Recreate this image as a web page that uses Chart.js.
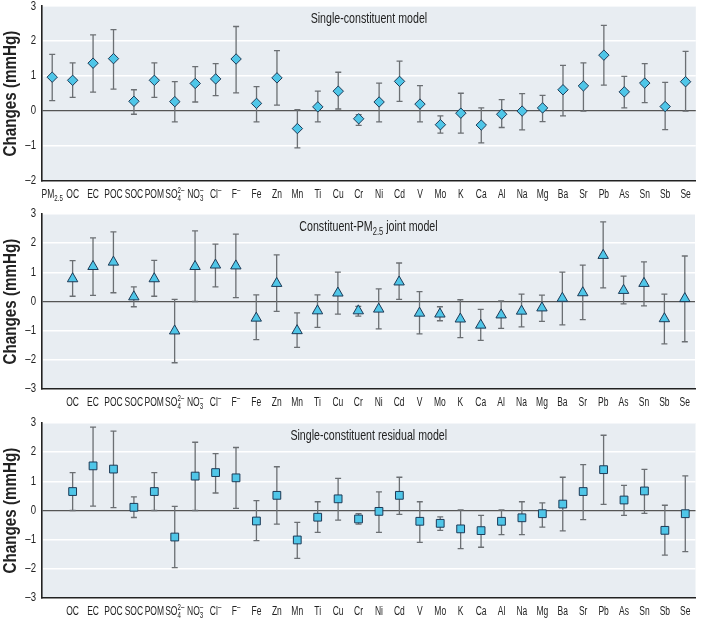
<!DOCTYPE html>
<html>
<head>
<meta charset="utf-8">
<script src="https://cdn.jsdelivr.net/npm/chart.js@4"></script>
<style>
  body { margin: 0; background: #fff; }
  .panel { position: absolute; left: 0; width: 702px; }
</style>
</head>
<body>
<div class="panel" style="top:0;height:203px"><canvas id="c1"></canvas></div>
<div class="panel" style="top:203px;height:208px"><canvas id="c2"></canvas></div>
<div class="panel" style="top:411px;height:209px"><canvas id="c3"></canvas></div>
<script>
// categories
const labels1 = ['PM₂.₅','OC','EC','POC','SOC','POM','SO₄²⁻','NO₃⁻','Cl⁻','F⁻','Fe','Zn','Mn','Ti','Cu','Cr','Ni','Cd','V','Mo','K','Ca','Al','Na','Mg','Ba','Sr','Pb','As','Sn','Sb','Se'];
const labels23 = [''].concat(labels1.slice(1));

// single-constituent model
const single = [0.97,0.88,1.37,1.50,0.28,0.88,0.27,0.79,0.92,1.49,0.22,0.95,-0.50,0.12,0.57,-0.22,0.26,0.85,0.20,-0.39,-0.06,-0.40,-0.09,0.00,0.09,0.61,0.72,1.60,0.55,0.80,0.13,0.84];
const singleLo = [0.30,0.39,0.54,0.63,-0.09,0.39,-0.31,0.26,0.44,0.52,-0.31,0.17,-1.05,-0.31,0.06,-0.41,-0.31,0.28,-0.31,-0.63,-0.63,-0.91,-0.47,-0.54,-0.30,-0.14,0.00,0.74,0.09,0.24,-0.53,0.00];
const singleHi = [1.62,1.38,2.18,2.33,0.61,1.38,0.84,1.27,1.36,2.42,0.70,1.73,0.04,0.57,1.11,-0.10,0.80,1.43,0.73,-0.14,0.51,0.09,0.33,0.50,0.45,1.31,1.38,2.45,0.99,1.36,0.82,1.71];

// constituent-PM2.5 joint model
const joint = [null,0.78,1.20,1.35,0.16,0.78,-1.01,1.20,1.25,1.22,-0.57,0.62,-1.00,-0.32,0.29,-0.32,-0.26,0.67,-0.40,-0.43,-0.60,-0.81,-0.46,-0.33,-0.22,0.11,0.30,1.58,0.38,0.62,-0.59,0.10];
const jointLo = [null,0.18,0.21,0.30,-0.18,0.18,-2.10,0.00,0.50,0.13,-1.31,-0.34,-1.57,-0.89,-0.43,-0.50,-0.94,0.07,-1.11,-0.66,-1.24,-1.33,-0.92,-0.87,-0.68,-0.80,-0.62,0.47,-0.08,-0.15,-1.45,-1.38];
const jointHi = [null,1.40,2.18,2.39,0.50,1.41,0.07,2.42,1.97,2.31,0.23,1.60,-0.39,0.23,1.01,-0.17,0.43,1.32,0.34,-0.18,0.06,-0.27,0.02,0.25,0.22,1.01,1.25,2.73,0.87,1.36,0.25,1.56];

// single-constituent residual model
const resid = [null,0.65,1.53,1.42,0.11,0.65,-0.91,1.18,1.30,1.12,-0.36,0.52,-1.01,-0.23,0.40,-0.29,-0.03,0.52,-0.37,-0.44,-0.63,-0.69,-0.37,-0.25,-0.11,0.22,0.65,1.40,0.36,0.67,-0.68,-0.11];
const residLo = [null,0.00,0.15,0.10,-0.24,0.00,-1.96,0.00,0.60,0.07,-1.03,-0.47,-1.64,-0.75,-0.33,-0.47,-0.75,-0.13,-1.09,-0.68,-1.31,-1.26,-0.83,-0.83,-0.57,-0.70,-0.31,0.21,-0.17,-0.10,-1.53,-1.41];
const residHi = [null,1.30,2.86,2.72,0.47,1.30,0.14,2.34,1.95,2.16,0.34,1.50,-0.41,0.30,1.10,-0.11,0.64,1.14,0.30,-0.22,0.02,-0.17,0.02,0.30,0.26,1.14,1.57,2.58,0.86,1.41,0.18,1.19];

const FONT = "'Liberation Sans', Arial, sans-serif";
const SUB = { '₂': '2', '₃': '3', '₄': '4', '₅': '5', '.': '.' };
const SUP = { '²': '2', '⁻': '–' };

// split a label into runs of normal / sub / sup text
function runs(label) {
  const out = [];
  let prevSub = false;
  for (const ch of label) {
    let kind = 'n', t = ch;
    if (SUP[ch]) { kind = 'sup'; t = SUP[ch]; }
    else if (SUB[ch] && (ch !== '.' || prevSub)) { kind = 'sub'; t = SUB[ch]; }
    prevSub = kind === 'sub';
    const last = out[out.length - 1];
    if (last && last.kind === kind) last.t += t; else out.push({ kind, t });
  }
  return out;
}

// draws condensed text centred at (x, y)
function condText(ctx, label, x, y, size, sx) {
  const rs = runs(label);
  const small = Math.round(size * 0.72);
  rs.forEach(r => {
    ctx.font = (r.kind === 'n' ? size : small) + 'px ' + FONT;
    r.w = ctx.measureText(r.t).width;
  });
  // sup sits over the sub for SO4 2-
  let total = 0;
  rs.forEach((r, i) => {
    if (r.kind === 'sup' && i > 0 && rs[i - 1].kind === 'sub') { r.stack = true; total += Math.max(0, r.w - rs[i - 1].w); }
    else total += r.w;
  });
  ctx.save();
  ctx.translate(x, y);
  ctx.scale(sx, 1);
  ctx.textBaseline = 'alphabetic';
  ctx.textAlign = 'left';
  let cx = -total / 2, subX = 0;
  rs.forEach(r => {
    if (r.kind === 'n') {
      ctx.font = size + 'px ' + FONT;
      ctx.fillText(r.t, cx, size * 0.36);
      cx += r.w;
    } else if (r.kind === 'sub') {
      ctx.font = small + 'px ' + FONT;
      subX = cx;
      ctx.fillText(r.t, cx, size * 0.36 + size * 0.25);
      cx += r.w;
    } else {
      ctx.font = small + 'px ' + FONT;
      const px = r.stack ? subX : cx;
      ctx.fillText(r.t, px, size * 0.36 - size * 0.38);
      cx = r.stack ? Math.max(cx, subX + r.w) : cx + r.w;
    }
  });
  ctx.restore();
}

const panelPlugin = {
  id: 'panel',
  beforeDraw(chart) {
    const a = chart.chartArea, ctx = chart.ctx;
    ctx.save();
    ctx.fillStyle = '#e8edf2';
    ctx.fillRect(a.left, a.top, a.right - a.left, a.bottom - a.top);
    ctx.restore();
  },
  beforeDatasetsDraw(chart, args, opts) {
    const ctx = chart.ctx;
    const x = chart.scales.x, y = chart.scales.y;
    ctx.save();
    ctx.strokeStyle = '#6b6f73';
    ctx.lineWidth = 1.3;
    opts.lo.forEach((lo, i) => {
      const hi = opts.hi[i];
      if (lo === null) return;
      const px = x.getPixelForValue(i);
      const y1 = y.getPixelForValue(lo), y2 = y.getPixelForValue(hi);
      ctx.beginPath();
      ctx.moveTo(px, y1); ctx.lineTo(px, y2);
      ctx.moveTo(px - 3, y1); ctx.lineTo(px + 3, y1);
      ctx.moveTo(px - 3, y2); ctx.lineTo(px + 3, y2);
      ctx.stroke();
    });
    ctx.restore();
  },
  afterDraw(chart, args, opts) {
    const a = chart.chartArea, ctx = chart.ctx;
    const x = chart.scales.x, y = chart.scales.y;
    ctx.save();
    ctx.fillStyle = '#222';
    // title inside plot
    condText(ctx, opts.title, (a.left + a.right) / 2, a.top + 12, 14, 0.76);
    // x labels
    chart.data.labels.forEach((l, i) => {
      if (l) condText(ctx, l, x.getPixelForValue(i), a.bottom + 12, 12.5, 0.68);
    });
    // y ticks
    y.ticks.forEach(t => {
      const s = String(t.value).replace('-', '–');
      ctx.save();
      ctx.translate(36, y.getPixelForValue(t.value));
      ctx.scale(0.8, 1);
      ctx.font = '12px ' + FONT;
      ctx.textAlign = 'right';
      ctx.textBaseline = 'middle';
      ctx.fillText(s, 0, 0);
      ctx.restore();
    });
    // y title
    ctx.save();
    ctx.translate(11, (a.top + a.bottom) / 2);
    ctx.rotate(-Math.PI / 2);
    ctx.scale(0.8, 1);
    ctx.font = 'bold 19px ' + FONT;
    ctx.textAlign = 'center';
    ctx.textBaseline = 'middle';
    ctx.fillText('Changes (mmHg)', 0, 0);
    ctx.restore();
    ctx.restore();
  }
};

function makeChart(id, labels, est, lo, hi, style, radius, ymin, title, padTop) {
  return new Chart(document.getElementById(id), {
    type: 'line',
    data: {
      labels: labels,
      datasets: [{
        data: est,
        showLine: false,
        pointStyle: style,
        pointRadius: radius,
        pointHoverRadius: radius,
        pointBackgroundColor: '#4fc6e8',
        pointBorderColor: '#1d3a57',
        pointBorderWidth: 1
      }]
    },
    options: {
      responsive: true,
      maintainAspectRatio: false,
      animation: false,
      layout: { padding: { top: padTop, right: 2, left: 0, bottom: 0 } },
      plugins: {
        legend: { display: false },
        tooltip: { enabled: false },
        panel: { title: title, lo: lo, hi: hi }
      },
      scales: {
        x: {
          offset: true,
          grid: { display: false },
          border: { color: '#222', width: 1.6 },
          ticks: { display: false, autoSkip: false },
          afterFit(s) { s.height = 22; }
        },
        y: {
          min: ymin, max: 3,
          border: { color: '#222', width: 1.6 },
          grid: {
            drawTicks: false,
            color: c => c.tick.value === 0 ? '#555' : '#ffffff',
            lineWidth: c => c.tick.value === 0 ? 1.2 : 1.5
          },
          ticks: { display: false, stepSize: 1 },
          afterFit(s) { s.width = 42; }
        }
      }
    },
    plugins: [panelPlugin]
  });
}

makeChart('c1', labels1, single, singleLo, singleHi, 'rectRot', 5.2, -2, 'Single-constituent model', 5);
makeChart('c2', labels23, joint, jointLo, jointHi, 'triangle', 6, -3, 'Constituent-PM₂.₅ joint model', 11);
makeChart('c3', labels23, resid, residLo, residHi, 'rect', 5.5, -3, 'Single-constituent residual model', 12);
</script>
</body>
</html>
